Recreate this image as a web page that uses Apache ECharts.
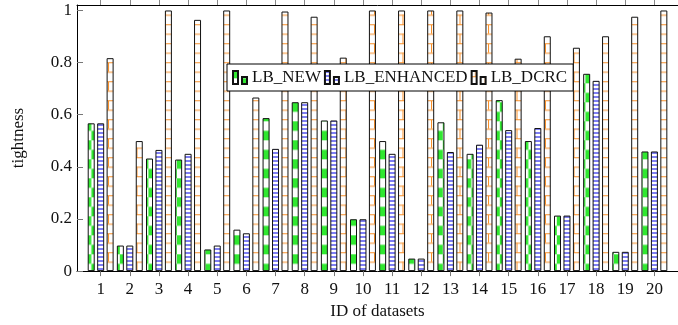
<!DOCTYPE html>
<html>
<head>
<meta charset="utf-8">
<script src="https://cdn.jsdelivr.net/npm/echarts@6/dist/echarts.min.js"></script>
<style>html,body{margin:0;padding:0;background:#fff}#c{width:678px;height:325px}</style>
</head>
<body>
<div id="c"></div>
<script>
const ids = [1,2,3,4,5,6,7,8,9,10,11,12,13,14,15,16,17,18,19,20];
const lbNew = [0.567,0.098,0.432,0.428,0.083,0.159,0.587,0.648,0.578,0.199,0.499,0.048,0.571,0.450,0.656,0.499,0.213,0.757,0.074,0.459];
const lbEnhanced = [0.567,0.098,0.465,0.450,0.098,0.145,0.469,0.648,0.578,0.199,0.450,0.048,0.457,0.485,0.541,0.549,0.213,0.730,0.074,0.459];
const lbDcrc = [0.817,0.499,1.0,0.964,1.0,0.666,0.996,0.976,0.819,1.0,1.0,1.0,1.0,0.992,0.815,0.901,0.857,0.901,0.976,1.0];
const yTicks = [0,0.2,0.4,0.6,0.8,1];
const seriesNames = ['LB_NEW','LB_ENHANCED','LB_DCRC'];

function makeCanvas(w, h, draw) {
  const c = document.createElement('canvas');
  c.width = w; c.height = h;
  const ctx = c.getContext('2d');
  ctx.fillStyle = '#fff'; ctx.fillRect(0, 0, w, h);
  draw(ctx);
  return c;
}
const greenImg = makeCanvas(19, 19, ctx => {
  ctx.fillStyle = '#30e830';
  ctx.fillRect(0, 0, 9.5, 9.5);
  ctx.fillRect(9.5, 9.5, 9.5, 9.5);
});
const blueImg = makeCanvas(4, 4, ctx => {
  ctx.fillStyle = '#7e7ef2';
  ctx.fillRect(0, 0, 4, 2);
});
const orangeImg = makeCanvas(19, 19, ctx => {
  ctx.strokeStyle = '#f8902a';
  ctx.lineWidth = 1;
  ctx.beginPath();
  ctx.moveTo(0, 0.5); ctx.lineTo(19, 0.5);
  ctx.moveTo(0, 10); ctx.lineTo(19, 10);
  ctx.moveTo(0.5, 0); ctx.lineTo(0.5, 9.5);
  ctx.moveTo(10, 9.5); ctx.lineTo(10, 19);
  ctx.stroke();
});
const patterns = [
  {image: greenImg, repeat: 'repeat', x: 5.8, y: 7.3},
  {image: blueImg, repeat: 'repeat', x: 0, y: 0},
  {image: orangeImg, repeat: 'repeat', x: 13, y: 5.2}
];
const valuesList = [lbNew, lbEnhanced, lbDcrc];
const font = 'Liberation Serif';

const chart = echarts.init(document.getElementById('c'), null, {renderer: 'canvas'});
chart.setOption({
  animation: false,
  backgroundColor: '#fff',
  textStyle: {fontFamily: font, color: '#000'},
  grid: {left: 77, right: -9, top: 5, bottom: 53},
  legend: {
    left: 227, top: 64,
    orient: 'horizontal',
    backgroundColor: '#fff',
    borderColor: '#000', borderWidth: 1,
    padding: [5, 6, 5, 5],
    itemGap: 3,
    itemWidth: 14, itemHeight: 13,
    icon: 'path://M0,0H5V13H0Z M9,6H14V13H9Z',
    textStyle: {fontFamily: font, fontSize: 17, color: '#111', padding: [2, 0, 0, 0]},
    data: seriesNames
  },
  xAxis: [{
    type: 'value', position: 'bottom',
    min: 0.188, max: 20.81,
    name: 'ID of datasets', nameLocation: 'middle', nameGap: 31,
    nameTextStyle: {fontFamily: font, fontSize: 17, color: '#111'},
    axisLine: {show: true, lineStyle: {color: '#000', width: 1}},
    axisTick: {show: true, inside: false, length: 5, customValues: ids, lineStyle: {color: '#777'}},
    axisLabel: {show: true, customValues: ids, margin: 10, fontFamily: font, fontSize: 17, color: '#111'},
    splitLine: {show: false}
  }, {
    type: 'value', position: 'top',
    min: 0.188, max: 20.81,
    axisLine: {show: true, lineStyle: {color: '#000', width: 1}},
    axisTick: {show: true, inside: false, length: 5, customValues: ids, lineStyle: {color: '#888'}},
    axisLabel: {show: false},
    splitLine: {show: false}
  }],
  yAxis: {
    type: 'value', min: 0, max: 1.021,
    name: 'tightness', nameLocation: 'middle', nameGap: 50,
    nameTextStyle: {fontFamily: font, fontSize: 17, color: '#111'},
    axisLine: {show: true, lineStyle: {color: '#000', width: 1}},
    axisTick: {show: true, inside: true, length: 6, customValues: yTicks, lineStyle: {color: '#777'}},
    axisLabel: {show: true, customValues: yTicks, margin: 5, fontFamily: font, fontSize: 17, color: '#111',
      formatter: v => String(+(+v).toFixed(1))},
    splitLine: {show: false}
  },
  series: seriesNames.map((name, i) => ({
    name: name,
    type: 'bar',
    xAxisIndex: 0,
    barWidth: 7,
    barGap: '35%',
    itemStyle: {color: patterns[i], borderColor: '#111', borderWidth: 1},
    data: ids.map((id, k) => [id, valuesList[i][k]])
  }))
});
</script>
</body>
</html>
